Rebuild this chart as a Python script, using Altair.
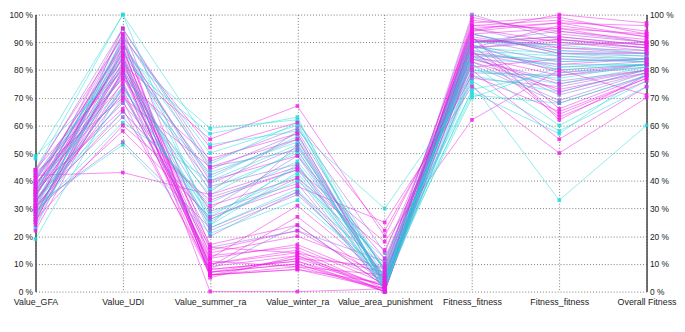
import altair as alt
import pandas as pd

dims = ["Value_GFA", "Value_UDI", "Value_summer_ra", "Value_winter_ra",
        "Value_area_punishment", "Fitness_fitness", "Fitness_fitness", "Overall Fitness"]

# one entry per solution line
group = (["m"] * 32) + (["v"] * 17) + (["c"] * 18)

gfa = [22, 24, 25, 27, 28, 29, 30, 30, 31, 32, 33, 34, 35, 36, 37, 38, 39, 40, 41, 42, 43, 44, 26, 29, 31, 35, 37, 39, 41, 44, 33, 36,
       25, 27, 28, 30, 32, 33, 34, 35, 36, 38, 39, 40, 42, 43, 26, 31, 37,
       19, 23, 26, 28, 30, 31, 33, 34, 36, 38, 40, 44, 48, 49, 32, 35, 29, 42]
udi = [80, 85, 88, 76, 83, 79, 91, 72, 87, 81, 69, 93, 78, 90, 66, 84, 75, 89, 82, 43, 70, 92, 60, 58, 65, 86, 95, 77, 88, 80, 73, 85,
       95, 90, 82, 74, 88, 63, 86, 79, 68, 93, 71, 84, 77, 95, 80, 54, 81,
       74, 87, 92, 70, 83, 53, 78, 65, 89, 74, 86, 100, 100, 80, 73, 91, 61, 84]
summer = [7, 6, 8, 6, 9, 10, 7, 12, 15, 17, 6, 5, 11, 13, 8, 0, 14, 40, 55, 35, 45, 52, 33, 27, 31, 9, 16, 48, 6, 7, 10, 12,
          45, 38, 22, 24, 36, 26, 42, 20, 30, 44, 16, 8, 34, 47, 29, 23, 39,
          25, 41, 50, 28, 57, 21, 43, 32, 46, 37, 59, 24, 53, 26, 35, 27, 40, 23]
winter = [12, 9, 11, 8, 13, 15, 10, 17, 22, 24, 8, 13, 9, 16, 11, 0, 20, 49, 67, 45, 55, 61, 44, 38, 41, 27, 14, 57, 12, 10, 14, 31,
          51, 46, 35, 53, 58, 41, 55, 36, 49, 57, 22, 24, 44, 59, 39, 36, 52,
          46, 56, 60, 42, 63, 33, 54, 47, 61, 50, 62, 43, 58, 40, 51, 45, 53, 37]
area = [2, 1, 0, 3, 2, 1, 0, 4, 5, 2, 1, 0, 6, 3, 2, 1, 8, 12, 20, 10, 4, 22, 18, 25, 15, 3, 7, 2, 9, 1, 0, 5,
        4, 2, 6, 3, 7, 1, 0, 9, 5, 3, 11, 2, 6, 14, 1, 4, 8,
        4, 2, 5, 3, 1, 6, 0, 9, 2, 4, 7, 3, 30, 12, 5, 1, 8, 2]
fit = [95, 97, 90, 93, 88, 96, 91, 86, 94, 89, 84, 98, 92, 87, 83, 90, 93, 85, 81, 95, 88, 78, 62, 74, 80, 99, 92, 86, 96, 91, 89, 94,
       100, 87, 84, 91, 83, 79, 95, 88, 82, 90, 86, 93, 77, 89, 92, 85, 90,
       76, 80, 85, 73, 88, 70, 90, 82, 78, 87, 84, 93, 75, 72, 80, 86, 71, 89]
fitfit = [97, 99, 92, 95, 91, 98, 88, 82, 100, 79, 75, 94, 66, 63, 73, 91, 86, 78, 84, 90, 96, 65, 80, 50, 55, 93, 62, 72, 95, 89, 64, 97,
          91, 81, 76, 85, 69, 78, 88, 90, 68, 92, 80, 86, 74, 83, 87, 71, 94,
          58, 77, 84, 79, 86, 81, 89, 60, 72, 85, 82, 87, 33, 57, 75, 83, 68, 80]
overall = [92, 93, 89, 90, 88, 94, 87, 84, 97, 82, 80, 91, 78, 76, 79, 89, 86, 82, 83, 88, 92, 77, 71, 70, 74, 90, 78, 80, 93, 90, 77, 96,
           88, 83, 80, 84, 79, 81, 86, 87, 78, 89, 82, 85, 80, 84, 86, 79, 90,
           74, 82, 83, 81, 84, 82, 86, 76, 80, 83, 82, 85, 60, 79, 81, 84, 78, 82]

cols = [gfa, udi, summer, winter, area, fit, fitfit, overall]
rows = []
order_rank = {"c": 0, "v": 1, "m": 2}
for i in range(len(group)):
    for k, col in enumerate(cols):
        rows.append({"id": i, "grp": group[i], "rank": order_rank[group[i]],
                     "axis": k, "value": col[i]})
df = pd.DataFrame(rows)

label_expr = "[" + ",".join("'" + d + "'" for d in dims) + "][datum.value]"
color = alt.Color("grp:N", legend=None,
                  scale=alt.Scale(domain=["c", "v", "m"],
                                  range=["#1fdada", "#8a6ad8", "#f01ae6"]))
xenc = alt.X("axis:Q", title=None,
             scale=alt.Scale(domain=[0, 7], nice=False, zero=False),
             axis=alt.Axis(values=list(range(8)), labelExpr=label_expr, grid=True,
                           gridDash=[1, 2], gridColor="#555", gridWidth=0.8,
                           domain=False, ticks=False, labelFlush=False,
                           labelOverlap=False, labelBound=False, labelPadding=6,
                           labelFont="Liberation Sans", labelFontSize=9,
                           labelColor="#222"))


def yenc(orient, grid):
    return alt.Y("value:Q", title=None,
                 scale=alt.Scale(domain=[0, 100], nice=False),
                 axis=alt.Axis(orient=orient, values=list(range(0, 101, 10)),
                               labelExpr="datum.value + ' %'", grid=grid,
                               gridDash=[1, 2], gridColor="#555", gridWidth=0.8,
                               ticks=False, domainColor="#444", domainWidth=1.5,
                               labelFont="Liberation Sans", labelFontSize=8.5,
                               labelColor="#222", labelPadding=3,
                               labelFlush=False))


base = alt.Chart(df)
lines = base.mark_line(strokeWidth=0.9, opacity=0.55).encode(
    x=xenc,
    y=yenc("left", True),
    color=color,
    detail="id:N",
    order="axis:Q",
)
points = base.mark_square(size=14, opacity=0.8).encode(
    x=xenc,
    y=yenc("right", False),
    color=color,
    order="rank:Q",
)

chart = alt.layer(lines, points).resolve_scale(y="independent").resolve_axis(
    y="independent").properties(width=622, height=282, padding=0).configure_view(
    stroke=None)

chart.save("out.html", embed_options={"renderer": "svg", "actions": False})
